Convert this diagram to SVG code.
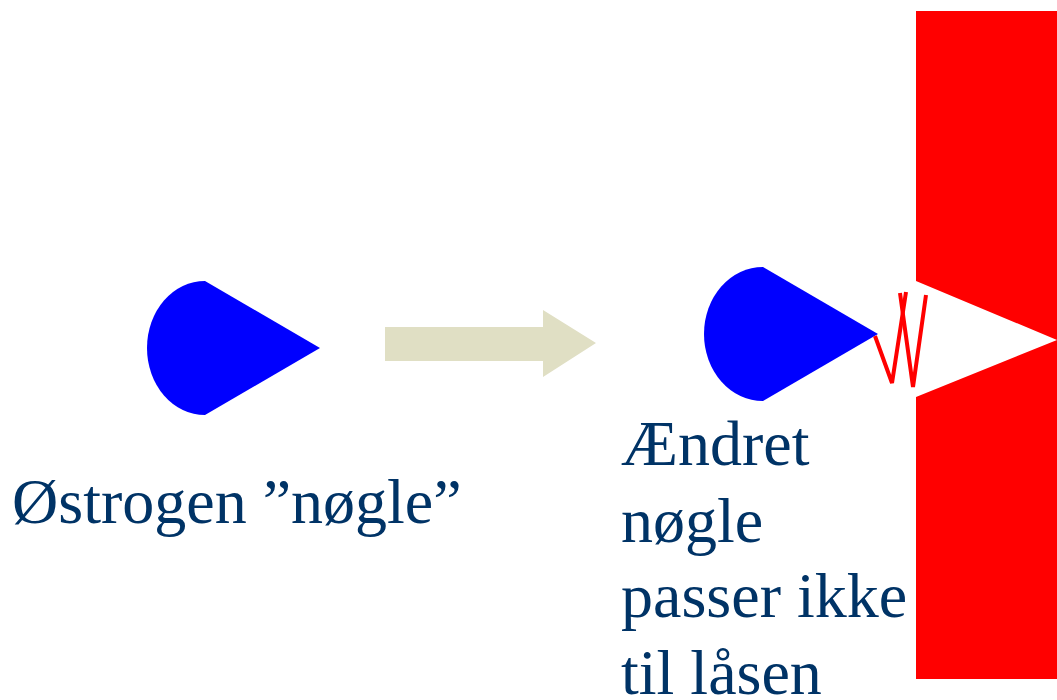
<svg xmlns="http://www.w3.org/2000/svg" width="1057" height="700" viewBox="0 0 1057 700">
  <style>
    .key { fill: #0000FF; }
    .lbl { font-family: "Liberation Serif", "Times New Roman", serif; font-size: 64px; fill: #003366; }
  </style>
  <rect width="1057" height="700" fill="#FFFFFF"/>
  <g id="lock">
    <path d="M916,11 H1057 V340 L916,281 Z M916,397 L1057,340 V679 H916 Z" fill="#FF0000"/>
  </g>
  <g id="key1">
    <path class="key" d="M205,281 A58,67 0 0 0 205,415 L320,348 Z"/>
  </g>
  <g id="key2">
    <path class="key" d="M763,267 A59,67 0 0 0 763,401 L878,334 Z"/>
  </g>
  <g id="clash">
    <polyline points="875,336 892,383 906,292" fill="none" stroke="#FF0000" stroke-width="4"/>
    <polyline points="900,293 913,387 926,295" fill="none" stroke="#FF0000" stroke-width="4"/>
  </g>
  <g id="connectors">
    <polygon points="385,327 543,327 543,310 596,343 543,377 543,361 385,361" fill="#E0DFC4"/>
  </g>
  <g id="label1">
    <text class="lbl" x="12" y="523">Østrogen ”nøgle”</text>
  </g>
  <g id="label2">
    <text class="lbl" x="621" y="465">Ændret</text>
    <text class="lbl" x="621" y="542">nøgle</text>
    <text class="lbl" x="621" y="617">passer ikke</text>
    <text class="lbl" x="621" y="694">til låsen</text>
  </g>
</svg>
